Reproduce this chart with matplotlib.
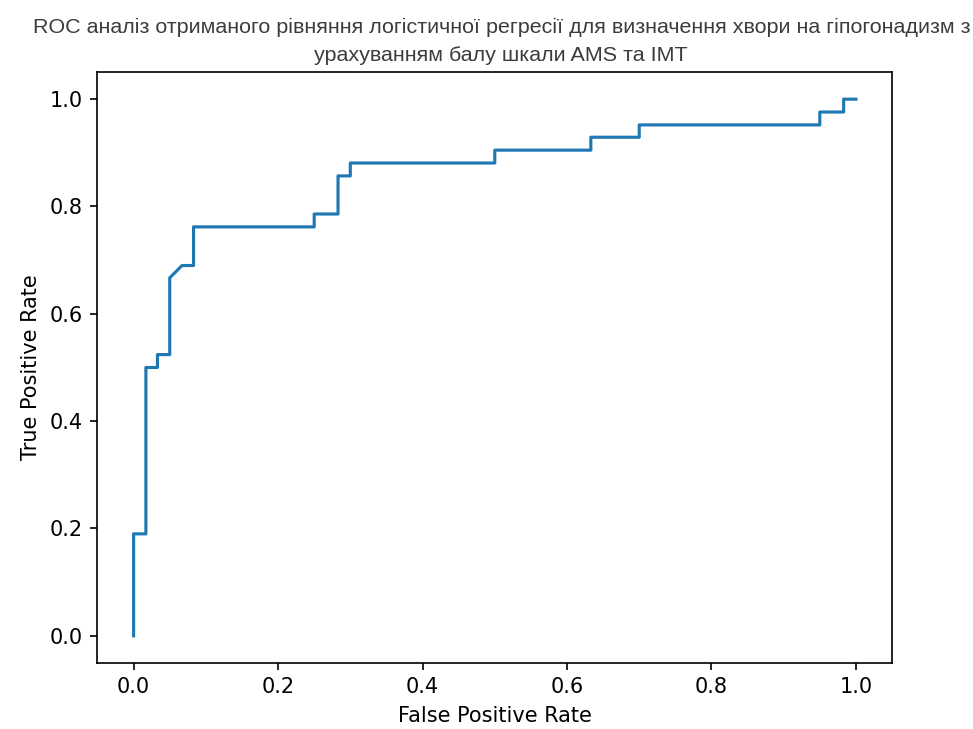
import matplotlib.pyplot as plt

# ROC curve points (false positive rate / true positive rate)
fpr = [0.0, 0.0, 0.017, 0.017, 0.033, 0.033, 0.05, 0.05, 0.067, 0.083, 0.083,
       0.25, 0.25, 0.283, 0.283, 0.3, 0.3, 0.5, 0.5, 0.633, 0.633, 0.7, 0.7,
       0.95, 0.95, 0.983, 0.983, 1.0]
tpr = [0.0, 0.19, 0.19, 0.5, 0.5, 0.524, 0.524, 0.667, 0.69, 0.69, 0.762,
       0.762, 0.786, 0.786, 0.857, 0.857, 0.881, 0.881, 0.905, 0.905, 0.929,
       0.929, 0.952, 0.952, 0.976, 0.976, 1.0, 1.0]

title_lines = ["ROC аналіз отриманого рівняння логістичної регресії для визначення хвори на гіпогонадизм з",
               "урахуванням балу шкали AMS та IMT"]

fig = plt.figure(figsize=(973/150, 729/150), dpi=150)
ax = fig.add_axes([0.1002, 0.0910, 0.8166, 0.8098])

ax.plot(fpr, tpr)
ax.set_xlabel("False Positive Rate")
ax.set_ylabel("True Positive Rate")

# title was set as two centred lines in a narrower face
fig.text(0.5155, 0.963, title_lines[0], ha="center", va="center",
         fontsize=10.3, family="Liberation Sans", color="#3c3c3c")
fig.text(0.5145, 0.924, title_lines[1], ha="center", va="center",
         fontsize=10.3, family="Liberation Sans", color="#3c3c3c")

fig.savefig("out.png", dpi=150)
